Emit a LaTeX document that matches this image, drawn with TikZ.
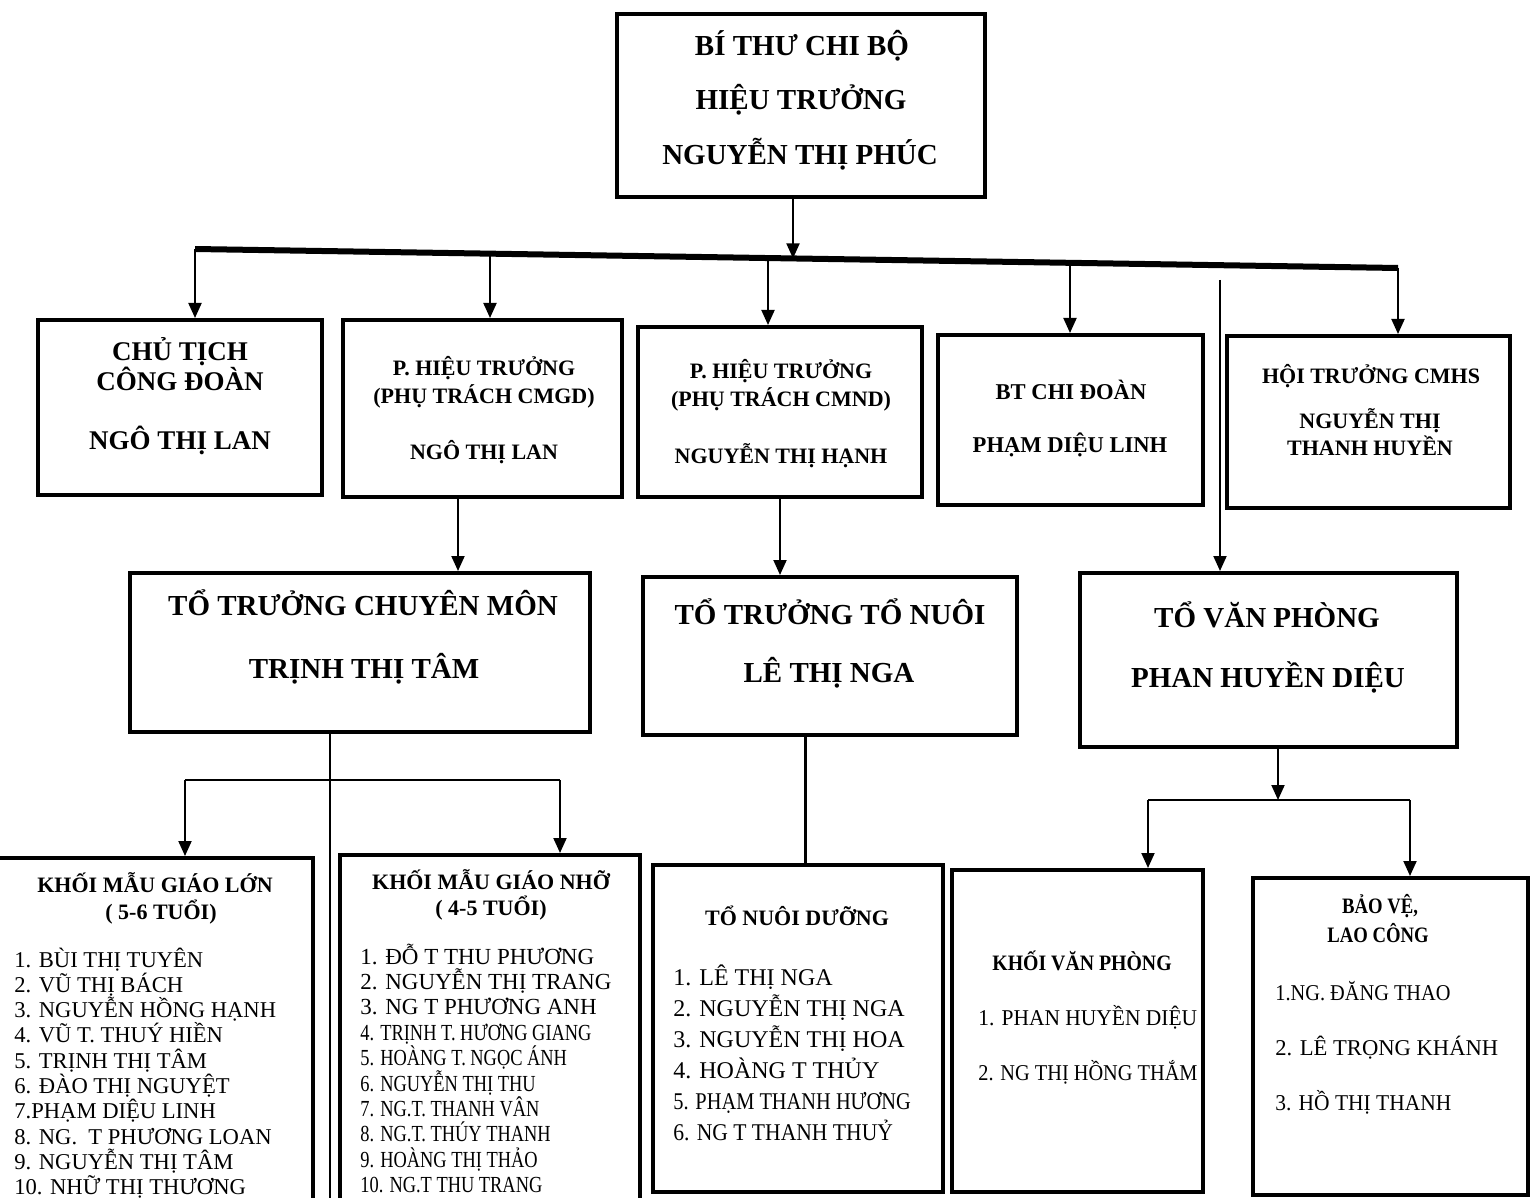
\documentclass[tikz,border=0pt]{standalone}
\usepackage{fontspec}
\setmainfont{Liberation Serif}
\usepackage{graphicx}
\usetikzlibrary{arrows.meta,fit}
\begin{document}
\begin{tikzpicture}[x=0.5pt,y=-0.5pt,
  box/.style={draw, line width=2pt, inner sep=0pt, rectangle},
  arr/.style={line width=1pt, -{Triangle[length=7.5pt,width=6.5pt]}},
  ln/.style={line width=1pt},
  lnb/.style={line width=1.5pt},
  busline/.style={line width=3pt},
  lbl/.style={inner sep=0pt, anchor=base},
  fTop/.style={lbl, font=\bfseries\fontsize{14.5}{16}\selectfont},
  fA/.style={lbl, font=\bfseries\fontsize{13.5}{16}\selectfont},
  fMid/.style={lbl, font=\bfseries\fontsize{11}{13}\selectfont},
  fD/.style={lbl, font=\bfseries\fontsize{11.3}{13}\selectfont},
  fBig/.style={lbl, font=\bfseries\fontsize{14.5}{17}\selectfont},
  fTtl/.style={lbl, font=\bfseries\fontsize{11}{13}\selectfont},
  itm/.style={inner sep=0pt, anchor=base west, font=\fontsize{11.3}{13}\selectfont},
  itmJ/.style={inner sep=0pt, anchor=base west, font=\fontsize{11.5}{13}\selectfont},
  itmK/.style={inner sep=0pt, anchor=base west, font=\fontsize{12}{14}\selectfont},
  itmS/.style={inner sep=0pt, anchor=base west, font=\fontsize{11.3}{13}\selectfont}
]
\useasboundingbox (0,0) rectangle (1532,1198);
\fill[white] (0,0) rectangle (1532,1198);
\clip (0,0) rectangle (1532,1198);

% ---------- boxes ----------
\node[box, fit={(617,14) (985,197)}] (T) {};
\node[box, fit={(38,320) (322,495)}] (A) {};
\node[box, fit={(343,320) (622,497)}] (B) {};
\node[box, fit={(638,327) (922,497)}] (C) {};
\node[box, fit={(938,335) (1203,505)}] (D) {};
\node[box, fit={(1227,336) (1510,508)}] (E) {};
\node[box, fit={(130,573) (590,732)}] (F) {};
\node[box, fit={(643,577) (1017,735)}] (G) {};
\node[box, fit={(1080,573) (1457,747)}] (H) {};
\node[box, fit={(-20,858) (313,1240)}] (I) {};
\node[box, fit={(340,855) (640,1240)}] (J) {};
\node[box, fit={(653,865) (943,1192)}] (K) {};
\node[box, fit={(952,870) (1203,1192)}] (L) {};
\node[box, fit={(1253,878) (1528,1195)}] (M) {};

% ---------- texts ----------
\node[fTop] (T1) at (802,56) {BÍ THƯ CHI BỘ};
\node[fTop] (T2) at (801,110) {HIỆU TRƯỞNG};
\node[fTop] (T3) at (800,165) {NGUYỄN THỊ PHÚC};

\node[fA] (A1) at (180,361) {CHỦ TỊCH};
\node[fA] (A2) at (180,390) {CÔNG ĐOÀN};
\node[fA] (A3) at (180,449) {NGÔ THỊ LAN};

\node[fMid] (B1) at (484,375) {P. HIỆU TRƯỞNG};
\node[fMid] (B2) at (484,403) {(PHỤ TRÁCH CMGD)};
\node[fMid] (B3) at (484,459) {NGÔ THỊ LAN};

\node[fMid] (C1) at (781,379) {P. HIỆU TRƯỞNG};
\node[fMid] (C2) at (781,407) {(PHỤ TRÁCH CMND)};
\node[fMid] (C3) at (781,463) {NGUYỄN THỊ HẠNH};

\node[fD] (D1) at (1071,400) {BT CHI ĐOÀN};
\node[fD] (D2) at (1070,452) {PHẠM DIỆU LINH};

\node[fMid] (E1) at (1371,383) {HỘI TRƯỞNG CMHS};
\node[fMid] (E2) at (1370,429) {NGUYỄN THỊ};
\node[fMid] (E3) at (1370,455) {THANH HUYỀN};

\node[fBig] (F1) at (363,615) {TỔ TRƯỞNG CHUYÊN MÔN};
\node[fBig] (F2) at (364,678) {TRỊNH THỊ TÂM};

\node[fBig] (G1) at (830,624) {TỔ TRƯỞNG TỔ NUÔI};
\node[fBig] (G2) at (829,682) {LÊ THỊ NGA};

\node[fBig] (H1) at (1267,627) {TỔ VĂN PHÒNG};
\node[fBig] (H2) at (1268,687) {PHAN HUYỀN DIỆU};

\node[fTtl] (I0) at (155,892) {KHỐI MẪU GIÁO LỚN};
\node[fTtl] (I00) at (161,919) {( 5-6 TUỔI)};
\foreach \s [count=\k] in {{1. BÙI THỊ TUYÊN},{2. VŨ THỊ BÁCH},{3. NGUYỄN HỒNG HẠNH},{4. VŨ T. THUÝ HIỀN},{5. TRỊNH THỊ TÂM},{6. ĐÀO THỊ NGUYỆT},{7.PHẠM DIỆU LINH},{8. NG.\ \ T PHƯƠNG LOAN},{9. NGUYỄN THỊ TÂM},{10. NHỮ THỊ THƯƠNG}}
  \node[itm] (I\k) at (14,{967+25.3*(\k-1)}) {\s};

\node[fTtl] (J0) at (491,889) {KHỐI MẪU GIÁO NHỠ};
\node[fTtl] (J00) at (491,915) {( 4-5 TUỔI)};
\foreach \s [count=\k] in {{1. ĐỖ T THU PHƯƠNG},{2. NGUYỄN THỊ TRANG},{3. NG T PHƯƠNG ANH},{\scalebox{0.8}[1]{4. TRỊNH T. HƯƠNG GIANG}},{\scalebox{0.8}[1]{5. HOÀNG T. NGỌC ÁNH}},{\scalebox{0.8}[1]{6. NGUYỄN THỊ THU}},{\scalebox{0.8}[1]{7. NG.T. THANH VÂN}},{\scalebox{0.8}[1]{8. NG.T. THÚY THANH}},{\scalebox{0.8}[1]{9. HOÀNG THỊ THẢO}},{\scalebox{0.8}[1]{10. NG.T THU TRANG}}}
  \node[itmJ] (J\k) at (360,{964+25.4*(\k-1)}) {\s};

\node[fTtl] (K0) at (797,925) {TỔ NUÔI DƯỠNG};
\foreach \s [count=\k] in {{1. LÊ THỊ NGA},{2. NGUYỄN THỊ NGA},{3. NGUYỄN THỊ HOA},{4. HOÀNG T THỦY},{\scalebox{0.85}[1]{5. PHẠM THANH HƯƠNG}},{\scalebox{0.9}[1]{6. NG T THANH THUỶ}}}
  \node[itmK] (K\k) at (673,{985+31*(\k-1)}) {\s};

\node[fTtl] (L0) at (1082,970) {\scalebox{0.9}[1]{KHỐI VĂN PHÒNG}};
\node[itmS] (L1) at (978,1025) {\scalebox{0.95}[1]{1. PHAN HUYỀN DIỆU}};
\node[itmS] (L2) at (978,1080) {\scalebox{0.9}[1]{2. NG THỊ HỒNG THẮM}};

\node[fTtl] (M0) at (1380,913) {\scalebox{0.85}[1]{BẢO VỆ,}};
\node[fTtl] (M00) at (1378,942) {\scalebox{0.85}[1]{LAO CÔNG}};
\node[itmS] (M1) at (1275,1000) {\scalebox{0.9}[1]{1.NG. ĐĂNG THAO}};
\node[itmS] (M2) at (1275,1055) {2. LÊ TRỌNG KHÁNH};
\node[itmS] (M3) at (1275,1110) {\scalebox{0.95}[1]{3. HỒ THỊ THANH}};

% ---------- connectors ----------
\coordinate (jA) at (195,249);
\coordinate (jB) at (490,253.7);
\coordinate (jC) at (768,258);
\coordinate (jM) at (793,258.4);
\coordinate (jD) at (1070,262.8);
\coordinate (jE) at (1398,268);
\draw[busline] (jA) -- (jE);
\draw[arr] (T.south -| jM) -- (jM);
\draw[arr] (jA) -- (jA |- A.north);
\draw[arr] (jB) -- (jB |- B.north);
\draw[arr] (jC) -- (jC |- C.north);
\draw[arr] (jD) -- (jD |- D.north);
\draw[arr] (jE) -- (jE |- E.north);

\coordinate (hS) at (1220,280);
\draw[arr] (hS) -- (hS |- H.north);

\coordinate (xBF) at (458,0);
\draw[arr] (B.south -| xBF) -- (F.north -| xBF);
\coordinate (xCG) at (780,0);
\draw[arr] (C.south -| xCG) -- (G.north -| xCG);

\coordinate (fEnd) at (330,1205);
\draw[ln] (F.south -| fEnd) -- (fEnd);
\coordinate (brL) at (185,780);
\coordinate (brR) at (560,780);
\draw[ln] (brL) -- (brR);
\draw[arr] (brL) -- (brL |- I.north);
\draw[arr] (brR) -- (brR |- J.north);

\coordinate (xGK) at (805,0);
\draw[lnb] (G.south -| xGK) -- (K.north -| xGK);

\coordinate (brM) at (1278,800);
\coordinate (brL2) at (1148,800);
\coordinate (brR2) at (1410,800);
\draw[arr] (H.south -| brM) -- (brM);
\draw[ln] (brL2) -- (brR2);
\draw[arr] (brL2) -- (brL2 |- L.north);
\draw[arr] (brR2) -- (brR2 |- M.north);
\end{tikzpicture}
\end{document}
